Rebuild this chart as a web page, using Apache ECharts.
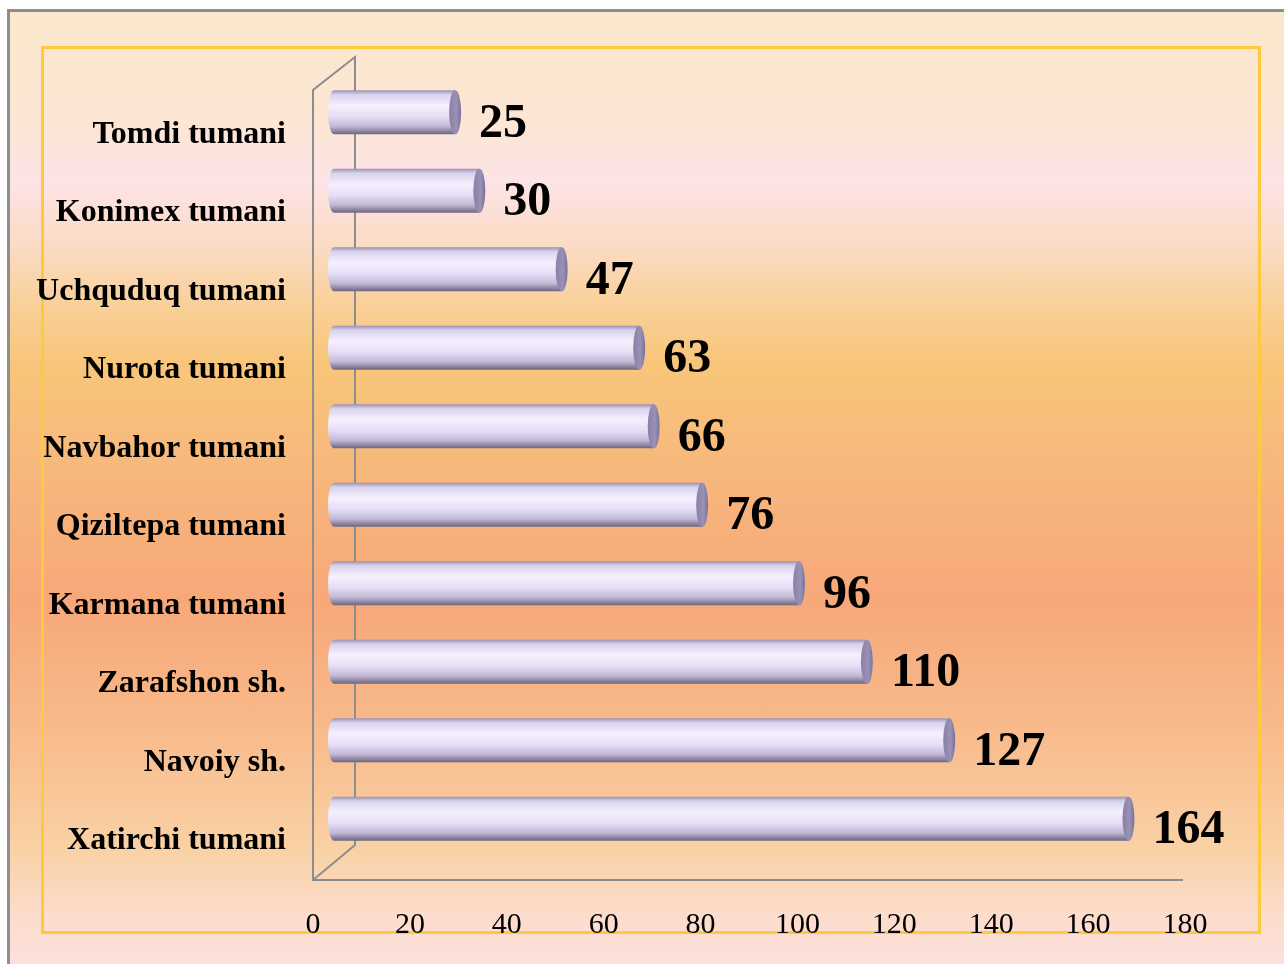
<!DOCTYPE html>
<html>
<head>
<meta charset="utf-8">
<script src="https://cdn.jsdelivr.net/npm/echarts@6/dist/echarts.min.js"></script>
<style>
  html, body { margin: 0; padding: 0; background: #fff; }
  #bg {
    position: absolute; left: 7px; top: 9px; width: 1300px; height: 980px;
    border-left: 3px solid #8e8e8e; border-top: 3px solid #8e8e8e;
    background: linear-gradient(to bottom,
      #fbe8cc 0px, #fce6d4 110px, #fde3e6 170px, #fbdcc6 230px,
      #f9cf95 300px, #f8c67a 350px, #f7b67c 470px, #f7a879 590px,
      #f8b98a 710px, #f9d2a6 840px, #fcdcca 900px, #fde0de 955px);
  }
  #box {
    position: absolute; left: 41px; top: 46px; width: 1214px; height: 882px;
    border: 3px solid #ffc93c;
  }
  #echarts01 { position: absolute; left: 0; top: 0; width: 1284px; height: 964px; }
</style>
</head>
<body>
<div id="bg"></div>
<div id="box"></div>
<div id="echarts01"></div>
<script>
var categories = ['Tomdi tumani', 'Konimex tumani', 'Uchquduq tumani', 'Nurota tumani', 'Navbahor tumani',
                  'Qiziltepa tumani', 'Karmana tumani', 'Zarafshon sh.', 'Navoiy sh.', 'Xatirchi tumani'];
var values = [25, 30, 47, 63, 66, 76, 96, 110, 127, 164];
var tickLabels = ['0', '20', '40', '60', '80', '100', '120', '140', '160', '180'];

echart01();
function echart01(){
  var myChart = echarts.init(document.getElementById('echarts01'));
  var depthX = 42, depthY = 35;   // 3D wall depth
  var barDx = 21, barDy = -22;    // bars sit half way into the depth
  var barH = 44, capRx = 6;

  function renderWall(params, api) {
    var cs = params.coordSys;
    var x0 = cs.x, yb = cs.y + cs.height, yt = cs.y - 5;
    return {
      type: 'polyline',
      shape: { points: [
        [cs.x + cs.width - 2, yb], [x0, yb], [x0, yt],
        [x0 + depthX, yt - depthY + 2], [x0 + depthX, yb - depthY], [x0, yb]
      ]},
      style: { stroke: '#8d8d8d', lineWidth: 2, fill: null }
    };
  }

  function renderBar(params, api) {
    var val = api.value(0), cat = api.value(1);
    var s = api.coord([0, cat]), e = api.coord([val, cat]);
    var x0 = s[0] + barDx, x1 = e[0] + barDx, yc = s[1] + barDy;
    var yt = yc - barH / 2, yb = yc + barH / 2, ry = barH / 2;
    var body = 'M' + x0 + ',' + yt + ' L' + x1 + ',' + yt +
      ' A' + capRx + ',' + ry + ' 0 0 1 ' + x1 + ',' + yb +
      ' L' + x0 + ',' + yb +
      ' A' + capRx + ',' + ry + ' 0 0 1 ' + x0 + ',' + yt + ' Z';
    var cap = 'M' + x1 + ',' + yt +
      ' A' + capRx + ',' + ry + ' 0 1 1 ' + x1 + ',' + yb +
      ' A' + capRx + ',' + ry + ' 0 1 1 ' + x1 + ',' + yt + ' Z';
    return {
      type: 'group',
      children: [
        { type: 'path', shape: { pathData: body },
          style: { fill: { type: 'linear', x: 0, y: 0, x2: 0, y2: 1, colorStops: [
            { offset: 0, color: '#9a91b0' }, { offset: 0.1, color: '#d9d2ec' },
            { offset: 0.35, color: '#f5f0ff' }, { offset: 0.6, color: '#e6def6' },
            { offset: 0.82, color: '#c2b9d6' }, { offset: 1, color: '#6d6482' }
          ]}}},
        { type: 'path', shape: { pathData: cap },
          style: { fill: { type: 'linear', x: 0, y: 0, x2: 1, y2: 0, colorStops: [
            { offset: 0, color: '#8a80a4' }, { offset: 0.6, color: '#9a91b6' }, { offset: 1, color: '#7a7094' }
          ]}}},
        { type: 'text',
          style: { text: String(val), x: x1 + capRx + 18, y: yc + 12,
            font: 'bold 48px "Liberation Serif"', fill: '#000',
            align: 'left', verticalAlign: 'middle' } }
      ]
    };
  }

  var option = {
      animation: false,
      grid: { left: 313, right: 99, top: 95, bottom: 84 },
      xAxis: {
        type: 'value', min: 0, max: 180, interval: 20,
        axisLine: { show: false }, axisTick: { show: false }, splitLine: { show: false },
        axisLabel: {
          margin: 30, color: '#000', fontSize: 30, fontFamily: 'Liberation Serif',
          formatter: function (v) { return tickLabels[v / 20]; }
        }
      },
      yAxis: {
        type: 'category', inverse: true, data: categories,
        axisLine: { show: false }, axisTick: { show: false },
        axisLabel: {
          margin: 27, color: '#000', fontSize: 32, fontWeight: 'bold', fontFamily: 'Liberation Serif',
          padding: [6, 0, 0, 0]
        }
      },
      series: [
        { type: 'custom', name: 'wall', z: 1, renderItem: renderWall, data: [[0, 0]], silent: true },
        {
          type: 'custom', name: 'bars', z: 2, renderItem: renderBar,
          encode: { x: 0, y: 1 },
          data: values.map(function (v, i) { return [v, i]; })
        }
      ]
  };
  myChart.setOption(option);
}
</script>
</body>
</html>
